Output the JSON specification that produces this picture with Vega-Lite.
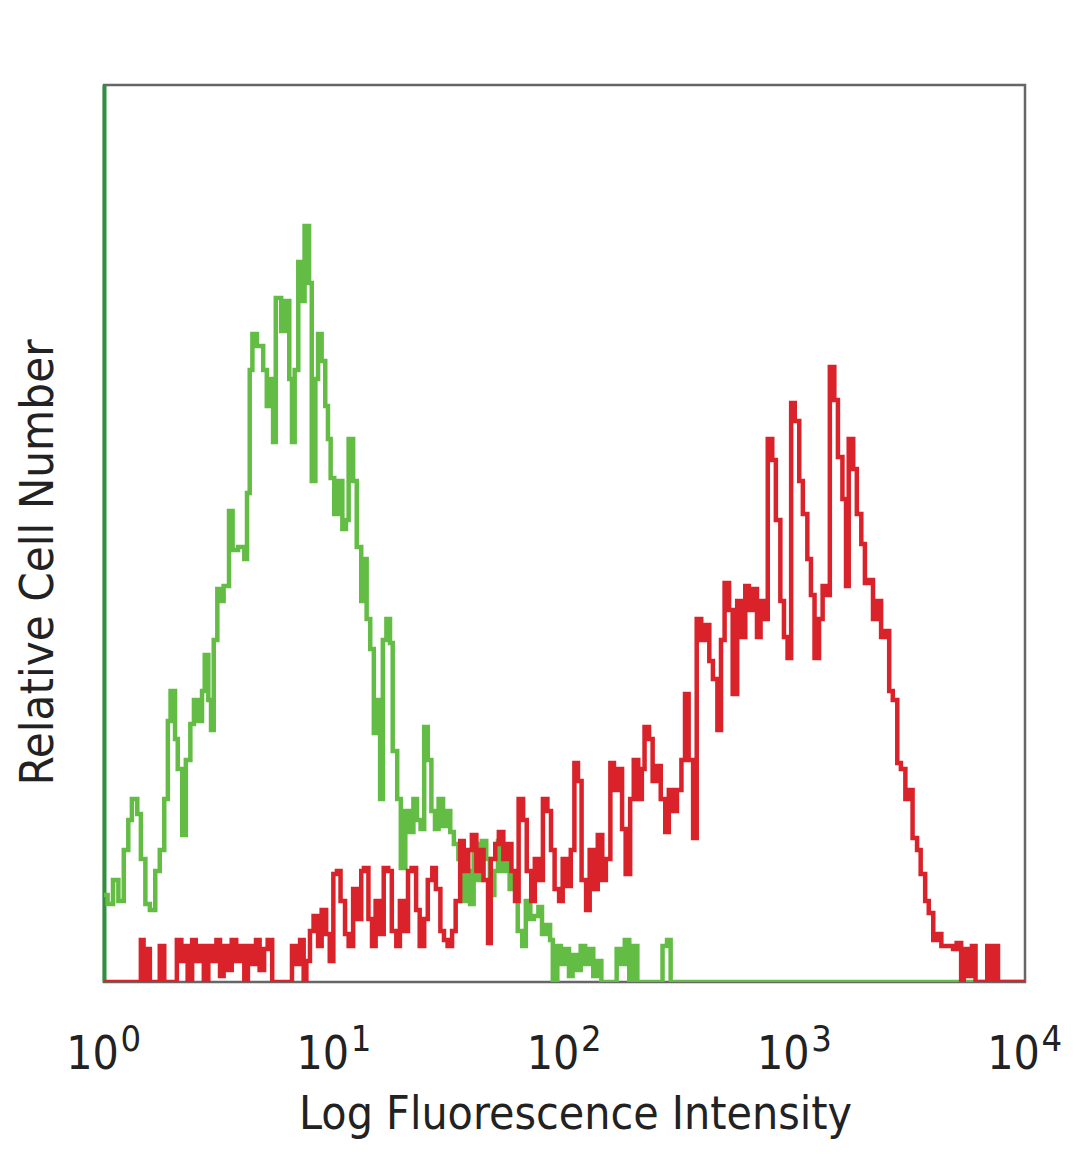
{
  "$schema": "https://vega.github.io/schema/vega-lite/v6.json",
  "autosize": {"type": "none"},
  "padding": {"left": 104, "top": 85, "right": 55, "bottom": 187},
  "width": 921,
  "height": 897,
  "background": "white",
  "config": {
    "view": {"stroke": "#666666", "strokeWidth": 2.5},
    "font": "Liberation Sans Narrow, DejaVu Sans Condensed, Liberation Sans, sans-serif"
  },
  "data": {
    "values": [
      {"sample": "control", "channel": 0, "count": 29},
      {"sample": "control", "channel": 4, "count": 26},
      {"sample": "control", "channel": 10, "count": 34},
      {"sample": "control", "channel": 16, "count": 27},
      {"sample": "control", "channel": 22, "count": 44},
      {"sample": "control", "channel": 27, "count": 54},
      {"sample": "control", "channel": 31, "count": 61},
      {"sample": "control", "channel": 37, "count": 56},
      {"sample": "control", "channel": 41, "count": 41},
      {"sample": "control", "channel": 46, "count": 26},
      {"sample": "control", "channel": 51, "count": 24},
      {"sample": "control", "channel": 57, "count": 37},
      {"sample": "control", "channel": 62, "count": 44},
      {"sample": "control", "channel": 67, "count": 61},
      {"sample": "control", "channel": 71, "count": 87},
      {"sample": "control", "channel": 74, "count": 97},
      {"sample": "control", "channel": 79, "count": 81},
      {"sample": "control", "channel": 82, "count": 71},
      {"sample": "control", "channel": 87, "count": 49},
      {"sample": "control", "channel": 91, "count": 74},
      {"sample": "control", "channel": 96, "count": 86},
      {"sample": "control", "channel": 100, "count": 94},
      {"sample": "control", "channel": 105, "count": 87},
      {"sample": "control", "channel": 109, "count": 97},
      {"sample": "control", "channel": 112, "count": 109},
      {"sample": "control", "channel": 116, "count": 94},
      {"sample": "control", "channel": 119, "count": 84},
      {"sample": "control", "channel": 122, "count": 114},
      {"sample": "control", "channel": 126, "count": 131},
      {"sample": "control", "channel": 129, "count": 127},
      {"sample": "control", "channel": 133, "count": 132},
      {"sample": "control", "channel": 139, "count": 157},
      {"sample": "control", "channel": 143, "count": 144},
      {"sample": "control", "channel": 149, "count": 145},
      {"sample": "control", "channel": 156, "count": 141},
      {"sample": "control", "channel": 159, "count": 163},
      {"sample": "control", "channel": 162, "count": 204},
      {"sample": "control", "channel": 165, "count": 216},
      {"sample": "control", "channel": 170, "count": 212},
      {"sample": "control", "channel": 177, "count": 204},
      {"sample": "control", "channel": 181, "count": 192},
      {"sample": "control", "channel": 185, "count": 201},
      {"sample": "control", "channel": 188, "count": 180},
      {"sample": "control", "channel": 191, "count": 228},
      {"sample": "control", "channel": 197, "count": 217},
      {"sample": "control", "channel": 201, "count": 227},
      {"sample": "control", "channel": 206, "count": 201},
      {"sample": "control", "channel": 209, "count": 180},
      {"sample": "control", "channel": 212, "count": 204},
      {"sample": "control", "channel": 216, "count": 240},
      {"sample": "control", "channel": 220, "count": 227},
      {"sample": "control", "channel": 223, "count": 252},
      {"sample": "control", "channel": 228, "count": 233},
      {"sample": "control", "channel": 231, "count": 167},
      {"sample": "control", "channel": 235, "count": 201},
      {"sample": "control", "channel": 238, "count": 216},
      {"sample": "control", "channel": 242, "count": 207},
      {"sample": "control", "channel": 246, "count": 192},
      {"sample": "control", "channel": 249, "count": 181},
      {"sample": "control", "channel": 252, "count": 168},
      {"sample": "control", "channel": 256, "count": 156},
      {"sample": "control", "channel": 260, "count": 167},
      {"sample": "control", "channel": 265, "count": 151},
      {"sample": "control", "channel": 269, "count": 154},
      {"sample": "control", "channel": 272, "count": 181},
      {"sample": "control", "channel": 277, "count": 167},
      {"sample": "control", "channel": 281, "count": 145},
      {"sample": "control", "channel": 286, "count": 127},
      {"sample": "control", "channel": 289, "count": 141},
      {"sample": "control", "channel": 292, "count": 121},
      {"sample": "control", "channel": 296, "count": 111},
      {"sample": "control", "channel": 300, "count": 83},
      {"sample": "control", "channel": 304, "count": 94},
      {"sample": "control", "channel": 307, "count": 61},
      {"sample": "control", "channel": 310, "count": 114},
      {"sample": "control", "channel": 314, "count": 121},
      {"sample": "control", "channel": 318, "count": 113},
      {"sample": "control", "channel": 321, "count": 77},
      {"sample": "control", "channel": 326, "count": 61},
      {"sample": "control", "channel": 330, "count": 38},
      {"sample": "control", "channel": 335, "count": 57},
      {"sample": "control", "channel": 339, "count": 50},
      {"sample": "control", "channel": 344, "count": 61},
      {"sample": "control", "channel": 348, "count": 54},
      {"sample": "control", "channel": 352, "count": 51},
      {"sample": "control", "channel": 356, "count": 85},
      {"sample": "control", "channel": 360, "count": 74},
      {"sample": "control", "channel": 364, "count": 57},
      {"sample": "control", "channel": 368, "count": 51},
      {"sample": "control", "channel": 372, "count": 61},
      {"sample": "control", "channel": 377, "count": 52},
      {"sample": "control", "channel": 381, "count": 57},
      {"sample": "control", "channel": 385, "count": 50},
      {"sample": "control", "channel": 389, "count": 46},
      {"sample": "control", "channel": 394, "count": 41},
      {"sample": "control", "channel": 398, "count": 27},
      {"sample": "control", "channel": 402, "count": 37},
      {"sample": "control", "channel": 407, "count": 26},
      {"sample": "control", "channel": 411, "count": 46},
      {"sample": "control", "channel": 416, "count": 34},
      {"sample": "control", "channel": 420, "count": 47},
      {"sample": "control", "channel": 425, "count": 41},
      {"sample": "control", "channel": 429, "count": 29},
      {"sample": "control", "channel": 434, "count": 37},
      {"sample": "control", "channel": 438, "count": 47},
      {"sample": "control", "channel": 442, "count": 37},
      {"sample": "control", "channel": 447, "count": 41},
      {"sample": "control", "channel": 451, "count": 31},
      {"sample": "control", "channel": 456, "count": 36},
      {"sample": "control", "channel": 460, "count": 17},
      {"sample": "control", "channel": 465, "count": 12},
      {"sample": "control", "channel": 469, "count": 27},
      {"sample": "control", "channel": 474, "count": 21},
      {"sample": "control", "channel": 478, "count": 22},
      {"sample": "control", "channel": 483, "count": 25},
      {"sample": "control", "channel": 487, "count": 16},
      {"sample": "control", "channel": 491, "count": 19},
      {"sample": "control", "channel": 496, "count": 14},
      {"sample": "control", "channel": 499, "count": 0},
      {"sample": "control", "channel": 504, "count": 12},
      {"sample": "control", "channel": 508, "count": 6},
      {"sample": "control", "channel": 513, "count": 11},
      {"sample": "control", "channel": 517, "count": 2},
      {"sample": "control", "channel": 521, "count": 9},
      {"sample": "control", "channel": 526, "count": 4},
      {"sample": "control", "channel": 530, "count": 12},
      {"sample": "control", "channel": 535, "count": 6},
      {"sample": "control", "channel": 539, "count": 11},
      {"sample": "control", "channel": 544, "count": 2},
      {"sample": "control", "channel": 548, "count": 7},
      {"sample": "control", "channel": 553, "count": 0},
      {"sample": "control", "channel": 570, "count": 11},
      {"sample": "control", "channel": 575, "count": 6},
      {"sample": "control", "channel": 579, "count": 14},
      {"sample": "control", "channel": 584, "count": 0},
      {"sample": "control", "channel": 588, "count": 12},
      {"sample": "control", "channel": 593, "count": 0},
      {"sample": "control", "channel": 621, "count": 12},
      {"sample": "control", "channel": 626, "count": 14},
      {"sample": "control", "channel": 630, "count": 0},
      {"sample": "control", "channel": 1024, "count": 0},

      {"sample": "stained", "channel": 0, "count": 0},
      {"sample": "stained", "channel": 40, "count": 0},
      {"sample": "stained", "channel": 41, "count": 14},
      {"sample": "stained", "channel": 44, "count": 0},
      {"sample": "stained", "channel": 48, "count": 11},
      {"sample": "stained", "channel": 51, "count": 0},
      {"sample": "stained", "channel": 62, "count": 12},
      {"sample": "stained", "channel": 67, "count": 0},
      {"sample": "stained", "channel": 81, "count": 14},
      {"sample": "stained", "channel": 86, "count": 7},
      {"sample": "stained", "channel": 90, "count": 12},
      {"sample": "stained", "channel": 93, "count": 0},
      {"sample": "stained", "channel": 98, "count": 14},
      {"sample": "stained", "channel": 102, "count": 7},
      {"sample": "stained", "channel": 107, "count": 12},
      {"sample": "stained", "channel": 111, "count": 0},
      {"sample": "stained", "channel": 116, "count": 12},
      {"sample": "stained", "channel": 120, "count": 7},
      {"sample": "stained", "channel": 125, "count": 14},
      {"sample": "stained", "channel": 129, "count": 2},
      {"sample": "stained", "channel": 133, "count": 12},
      {"sample": "stained", "channel": 138, "count": 4},
      {"sample": "stained", "channel": 142, "count": 14},
      {"sample": "stained", "channel": 147, "count": 7},
      {"sample": "stained", "channel": 151, "count": 12},
      {"sample": "stained", "channel": 156, "count": 0},
      {"sample": "stained", "channel": 160, "count": 12},
      {"sample": "stained", "channel": 165, "count": 6},
      {"sample": "stained", "channel": 169, "count": 14},
      {"sample": "stained", "channel": 173, "count": 4},
      {"sample": "stained", "channel": 178, "count": 11},
      {"sample": "stained", "channel": 182, "count": 14},
      {"sample": "stained", "channel": 187, "count": 0},
      {"sample": "stained", "channel": 209, "count": 12},
      {"sample": "stained", "channel": 213, "count": 6},
      {"sample": "stained", "channel": 218, "count": 14},
      {"sample": "stained", "channel": 222, "count": 0},
      {"sample": "stained", "channel": 225, "count": 7},
      {"sample": "stained", "channel": 229, "count": 17},
      {"sample": "stained", "channel": 233, "count": 22},
      {"sample": "stained", "channel": 238, "count": 12},
      {"sample": "stained", "channel": 242, "count": 24},
      {"sample": "stained", "channel": 247, "count": 16},
      {"sample": "stained", "channel": 251, "count": 7},
      {"sample": "stained", "channel": 255, "count": 36},
      {"sample": "stained", "channel": 259, "count": 37},
      {"sample": "stained", "channel": 263, "count": 27},
      {"sample": "stained", "channel": 268, "count": 16},
      {"sample": "stained", "channel": 272, "count": 12},
      {"sample": "stained", "channel": 277, "count": 31},
      {"sample": "stained", "channel": 281, "count": 21},
      {"sample": "stained", "channel": 286, "count": 37},
      {"sample": "stained", "channel": 289, "count": 38},
      {"sample": "stained", "channel": 294, "count": 21},
      {"sample": "stained", "channel": 298, "count": 12},
      {"sample": "stained", "channel": 302, "count": 27},
      {"sample": "stained", "channel": 307, "count": 16},
      {"sample": "stained", "channel": 311, "count": 38},
      {"sample": "stained", "channel": 316, "count": 37},
      {"sample": "stained", "channel": 320, "count": 17},
      {"sample": "stained", "channel": 325, "count": 12},
      {"sample": "stained", "channel": 329, "count": 27},
      {"sample": "stained", "channel": 334, "count": 17},
      {"sample": "stained", "channel": 338, "count": 37},
      {"sample": "stained", "channel": 342, "count": 38},
      {"sample": "stained", "channel": 347, "count": 24},
      {"sample": "stained", "channel": 351, "count": 12},
      {"sample": "stained", "channel": 356, "count": 21},
      {"sample": "stained", "channel": 360, "count": 34},
      {"sample": "stained", "channel": 365, "count": 38},
      {"sample": "stained", "channel": 369, "count": 31},
      {"sample": "stained", "channel": 374, "count": 17},
      {"sample": "stained", "channel": 378, "count": 14},
      {"sample": "stained", "channel": 382, "count": 12},
      {"sample": "stained", "channel": 387, "count": 17},
      {"sample": "stained", "channel": 391, "count": 27},
      {"sample": "stained", "channel": 396, "count": 47},
      {"sample": "stained", "channel": 400, "count": 37},
      {"sample": "stained", "channel": 405, "count": 44},
      {"sample": "stained", "channel": 409, "count": 49},
      {"sample": "stained", "channel": 414, "count": 37},
      {"sample": "stained", "channel": 418, "count": 44},
      {"sample": "stained", "channel": 422, "count": 34},
      {"sample": "stained", "channel": 427, "count": 13},
      {"sample": "stained", "channel": 430, "count": 41},
      {"sample": "stained", "channel": 435, "count": 46},
      {"sample": "stained", "channel": 439, "count": 50},
      {"sample": "stained", "channel": 444, "count": 41},
      {"sample": "stained", "channel": 448, "count": 46},
      {"sample": "stained", "channel": 453, "count": 37},
      {"sample": "stained", "channel": 457, "count": 27},
      {"sample": "stained", "channel": 461, "count": 61},
      {"sample": "stained", "channel": 466, "count": 54},
      {"sample": "stained", "channel": 470, "count": 37},
      {"sample": "stained", "channel": 475, "count": 27},
      {"sample": "stained", "channel": 479, "count": 41},
      {"sample": "stained", "channel": 484, "count": 34},
      {"sample": "stained", "channel": 488, "count": 61},
      {"sample": "stained", "channel": 493, "count": 57},
      {"sample": "stained", "channel": 497, "count": 44},
      {"sample": "stained", "channel": 501, "count": 31},
      {"sample": "stained", "channel": 506, "count": 27},
      {"sample": "stained", "channel": 510, "count": 41},
      {"sample": "stained", "channel": 515, "count": 32},
      {"sample": "stained", "channel": 519, "count": 44},
      {"sample": "stained", "channel": 523, "count": 73},
      {"sample": "stained", "channel": 527, "count": 67},
      {"sample": "stained", "channel": 531, "count": 34},
      {"sample": "stained", "channel": 536, "count": 24},
      {"sample": "stained", "channel": 540, "count": 44},
      {"sample": "stained", "channel": 545, "count": 31},
      {"sample": "stained", "channel": 549, "count": 49},
      {"sample": "stained", "channel": 554, "count": 34},
      {"sample": "stained", "channel": 558, "count": 41},
      {"sample": "stained", "channel": 563, "count": 73},
      {"sample": "stained", "channel": 567, "count": 64},
      {"sample": "stained", "channel": 571, "count": 71},
      {"sample": "stained", "channel": 576, "count": 51},
      {"sample": "stained", "channel": 580, "count": 36},
      {"sample": "stained", "channel": 585, "count": 61},
      {"sample": "stained", "channel": 589, "count": 74},
      {"sample": "stained", "channel": 594, "count": 61},
      {"sample": "stained", "channel": 598, "count": 71},
      {"sample": "stained", "channel": 601, "count": 85},
      {"sample": "stained", "channel": 606, "count": 81},
      {"sample": "stained", "channel": 610, "count": 67},
      {"sample": "stained", "channel": 615, "count": 72},
      {"sample": "stained", "channel": 619, "count": 61},
      {"sample": "stained", "channel": 624, "count": 50},
      {"sample": "stained", "channel": 628, "count": 64},
      {"sample": "stained", "channel": 633, "count": 57},
      {"sample": "stained", "channel": 637, "count": 64},
      {"sample": "stained", "channel": 642, "count": 74},
      {"sample": "stained", "channel": 646, "count": 96},
      {"sample": "stained", "channel": 650, "count": 74},
      {"sample": "stained", "channel": 655, "count": 48},
      {"sample": "stained", "channel": 659, "count": 121},
      {"sample": "stained", "channel": 664, "count": 114},
      {"sample": "stained", "channel": 668, "count": 119},
      {"sample": "stained", "channel": 673, "count": 107},
      {"sample": "stained", "channel": 677, "count": 101},
      {"sample": "stained", "channel": 682, "count": 84},
      {"sample": "stained", "channel": 686, "count": 114},
      {"sample": "stained", "channel": 690, "count": 133},
      {"sample": "stained", "channel": 695, "count": 124},
      {"sample": "stained", "channel": 699, "count": 96},
      {"sample": "stained", "channel": 704, "count": 127},
      {"sample": "stained", "channel": 708, "count": 115},
      {"sample": "stained", "channel": 713, "count": 132},
      {"sample": "stained", "channel": 717, "count": 124},
      {"sample": "stained", "channel": 722, "count": 131},
      {"sample": "stained", "channel": 726, "count": 115},
      {"sample": "stained", "channel": 730, "count": 127},
      {"sample": "stained", "channel": 735, "count": 121},
      {"sample": "stained", "channel": 738, "count": 181},
      {"sample": "stained", "channel": 743, "count": 174},
      {"sample": "stained", "channel": 747, "count": 154},
      {"sample": "stained", "channel": 752, "count": 127},
      {"sample": "stained", "channel": 756, "count": 115},
      {"sample": "stained", "channel": 760, "count": 108},
      {"sample": "stained", "channel": 764, "count": 193},
      {"sample": "stained", "channel": 768, "count": 187},
      {"sample": "stained", "channel": 773, "count": 167},
      {"sample": "stained", "channel": 777, "count": 156},
      {"sample": "stained", "channel": 782, "count": 141},
      {"sample": "stained", "channel": 786, "count": 129},
      {"sample": "stained", "channel": 790, "count": 108},
      {"sample": "stained", "channel": 795, "count": 121},
      {"sample": "stained", "channel": 799, "count": 132},
      {"sample": "stained", "channel": 804, "count": 129},
      {"sample": "stained", "channel": 807, "count": 205},
      {"sample": "stained", "channel": 812, "count": 194},
      {"sample": "stained", "channel": 816, "count": 175},
      {"sample": "stained", "channel": 821, "count": 161},
      {"sample": "stained", "channel": 825, "count": 132},
      {"sample": "stained", "channel": 828, "count": 181},
      {"sample": "stained", "channel": 833, "count": 171},
      {"sample": "stained", "channel": 837, "count": 156},
      {"sample": "stained", "channel": 842, "count": 146},
      {"sample": "stained", "channel": 846, "count": 133},
      {"sample": "stained", "channel": 851, "count": 134},
      {"sample": "stained", "channel": 855, "count": 121},
      {"sample": "stained", "channel": 859, "count": 127},
      {"sample": "stained", "channel": 864, "count": 115},
      {"sample": "stained", "channel": 868, "count": 117},
      {"sample": "stained", "channel": 873, "count": 97},
      {"sample": "stained", "channel": 877, "count": 94},
      {"sample": "stained", "channel": 882, "count": 73},
      {"sample": "stained", "channel": 886, "count": 71},
      {"sample": "stained", "channel": 891, "count": 61},
      {"sample": "stained", "channel": 895, "count": 64},
      {"sample": "stained", "channel": 899, "count": 48},
      {"sample": "stained", "channel": 904, "count": 44},
      {"sample": "stained", "channel": 908, "count": 36},
      {"sample": "stained", "channel": 913, "count": 27},
      {"sample": "stained", "channel": 917, "count": 23},
      {"sample": "stained", "channel": 922, "count": 14},
      {"sample": "stained", "channel": 926, "count": 16},
      {"sample": "stained", "channel": 931, "count": 12},
      {"sample": "stained", "channel": 935, "count": 12},
      {"sample": "stained", "channel": 939, "count": 12},
      {"sample": "stained", "channel": 944, "count": 11},
      {"sample": "stained", "channel": 948, "count": 13},
      {"sample": "stained", "channel": 953, "count": 0},
      {"sample": "stained", "channel": 956, "count": 11},
      {"sample": "stained", "channel": 961, "count": 2},
      {"sample": "stained", "channel": 965, "count": 12},
      {"sample": "stained", "channel": 969, "count": 0},
      {"sample": "stained", "channel": 982, "count": 12},
      {"sample": "stained", "channel": 986, "count": 0},
      {"sample": "stained", "channel": 991, "count": 12},
      {"sample": "stained", "channel": 994, "count": 0},
      {"sample": "stained", "channel": 1024, "count": 0}
    ]
  },
  "encoding": {
    "y": {
      "field": "count",
      "type": "quantitative",
      "scale": {"domain": [0, 299], "nice": false},
      "axis": {
        "labels": false,
        "ticks": false,
        "grid": false,
        "domain": true,
        "domainColor": "#2f8f3e",
        "domainWidth": 4,
        "title": "Relative Cell Number",
        "titleFontSize": 47,
        "titleFontWeight": "normal",
        "titleColor": "#222222",
        "titleBaseline": "alphabetic",
        "titleAngle": -90,
        "titleAlign": "center",
        "titleX": -52,
        "titleY": 477
      }
    },
    "color": {
      "field": "sample",
      "type": "nominal",
      "scale": {"domain": ["control", "stained"], "range": ["#63bd45", "#d9222a"]},
      "legend": null
    },
    "order": {"field": "channel", "type": "quantitative"}
  },
  "layer": [
    {
      "transform": [{"filter": "datum.sample === 'control'"}],
      "mark": {"type": "line", "interpolate": "step-after", "strokeWidth": 4.5, "clip": true},
      "encoding": {
        "x": {
          "field": "channel",
          "type": "quantitative",
          "scale": {"domain": [0, 1024], "nice": false, "zero": false},
          "axis": {
            "orient": "bottom",
            "values": [0, 256, 512, 768, 1024],
            "labelExpr": "'10'",
            "grid": false,
            "ticks": false,
            "tickSize": 0,
            "domain": false,
            "labelFontSize": 46,
            "labelColor": "#222222",
            "labelBaseline": "alphabetic",
            "labelAlign": "center",
            "labelOffset": -12,
            "labelPadding": 86,
            "labelFlush": false,
            "labelOverlap": false,
            "labelBound": false,
            "title": "Log Fluorescence Intensity",
            "titleFontSize": 46,
            "titleFontWeight": "normal",
            "titleColor": "#222222",
            "titleBaseline": "alphabetic",
            "titleX": 471,
            "titleY": 146
          }
        }
      }
    },
    {
      "transform": [{"filter": "datum.sample === 'stained'"}],
      "mark": {"type": "line", "interpolate": "step-after", "strokeWidth": 4.5, "clip": true},
      "encoding": {
        "x": {
          "field": "channel",
          "type": "quantitative",
          "scale": {"domain": [0, 1024], "nice": false, "zero": false},
          "axis": {
            "orient": "bottom",
            "values": [0, 256, 512, 768, 1024],
            "labelExpr": "['0','1','2','3','4'][datum.value / 256]",
            "grid": false,
            "ticks": false,
            "tickSize": 0,
            "domain": false,
            "labelFontSize": 36,
            "labelColor": "#222222",
            "labelBaseline": "alphabetic",
            "labelAlign": "left",
            "labelOffset": 16,
            "labelPadding": 68,
            "labelFlush": false,
            "labelOverlap": false,
            "labelBound": false,
            "title": null
          }
        }
      }
    }
  ],
  "resolve": {"axis": {"x": "independent"}}
}
